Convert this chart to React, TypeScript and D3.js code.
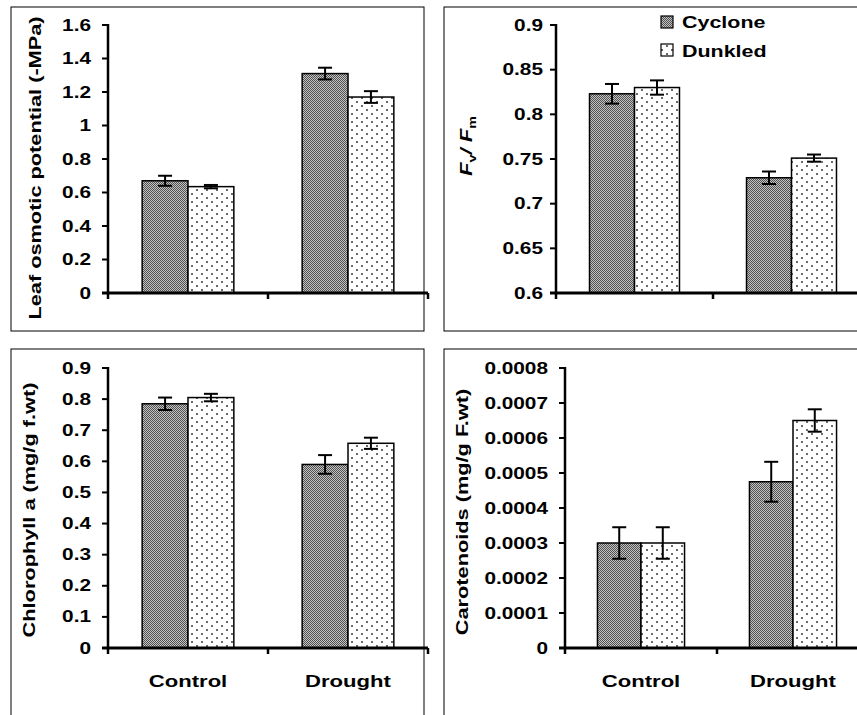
import React from 'react';
import * as d3 from 'd3';

const categories = ['Control', 'Drought'];
const cultivars = ['Cyclone', 'Dunkled'];

// Leaf osmotic potential (-MPa)
const osmoticCyclone = [0.67, 1.31];
const osmoticCycloneErr = [0.03, 0.035];
const osmoticDunkled = [0.635, 1.17];
const osmoticDunkledErr = [0.01, 0.035];
const osmoticTicks = [0, 0.2, 0.4, 0.6, 0.8, 1, 1.2, 1.4, 1.6];

// Fv/Fm
const fvfmCyclone = [0.823, 0.729];
const fvfmCycloneErr = [0.011, 0.007];
const fvfmDunkled = [0.83, 0.751];
const fvfmDunkledErr = [0.008, 0.004];
const fvfmTicks = [0.6, 0.65, 0.7, 0.75, 0.8, 0.85, 0.9];

// Chlorophyll a (mg/g f.wt)
const chlCyclone = [0.785, 0.59];
const chlCycloneErr = [0.02, 0.03];
const chlDunkled = [0.805, 0.658];
const chlDunkledErr = [0.012, 0.018];
const chlTicks = [0, 0.1, 0.2, 0.3, 0.4, 0.5, 0.6, 0.7, 0.8, 0.9];

// Carotenoids (mg/g F.wt)
const carCyclone = [0.0003, 0.000475];
const carCycloneErr = [0.000045, 0.000057];
const carDunkled = [0.0003, 0.00065];
const carDunkledErr = [0.000045, 0.000032];
const carTicks = [0, 0.0001, 0.0002, 0.0003, 0.0004, 0.0005, 0.0006, 0.0007, 0.0008];

const FONT = '"Liberation Sans", Arial, sans-serif';
const SX = 1.3;

type Panel = {
  frame: { x: number; y: number; w: number; h: number };
  axisX: number;
  yTop: number;
  yBottom: number;
  catW: number;
  domain: [number, number];
  ticks: number[];
  labelGap: number;
  label: string;
  labelPos: [number, number];
  series: number[][];
  errors: number[][];
  showCats: boolean;
  catLabelY: number;
};

const panels: Panel[] = [
  {
    frame: { x: 11, y: 7, w: 413, h: 324 },
    axisX: 108, yTop: 25, yBottom: 293, catW: 160,
    domain: [0, 1.6], ticks: osmoticTicks, labelGap: 17,
    label: 'Leaf osmotic potential (-MPa)', labelPos: [41, 168],
    series: [osmoticCyclone, osmoticDunkled], errors: [osmoticCycloneErr, osmoticDunkledErr],
    showCats: false, catLabelY: 0,
  },
  {
    frame: { x: 444, y: 7, w: 500, h: 324 },
    axisX: 556, yTop: 25, yBottom: 293, catW: 157,
    domain: [0.6, 0.9], ticks: fvfmTicks, labelGap: 13,
    label: 'FVFM', labelPos: [472, 146],
    series: [fvfmCyclone, fvfmDunkled], errors: [fvfmCycloneErr, fvfmDunkledErr],
    showCats: false, catLabelY: 0,
  },
  {
    frame: { x: 11, y: 349, w: 413, h: 500 },
    axisX: 108, yTop: 368, yBottom: 648, catW: 160,
    domain: [0, 0.9], ticks: chlTicks, labelGap: 17,
    label: 'Chlorophyll a (mg/g f.wt)', labelPos: [35, 510],
    series: [chlCyclone, chlDunkled], errors: [chlCycloneErr, chlDunkledErr],
    showCats: true, catLabelY: 687,
  },
  {
    frame: { x: 444, y: 349, w: 500, h: 500 },
    axisX: 565, yTop: 368, yBottom: 648, catW: 152,
    domain: [0, 0.0008], ticks: carTicks, labelGap: 17,
    label: 'Carotenoids (mg/g F.wt)', labelPos: [468, 512],
    series: [carCyclone, carDunkled], errors: [carCycloneErr, carDunkledErr],
    showCats: true, catLabelY: 687,
  },
];

const fills = ['url(#cyclonePat)', 'url(#dunkledPat)'];

function fmt(v: number) {
  return String(+v.toFixed(5));
}

function PanelView({ p }: { p: Panel }) {
  const y = d3.scaleLinear().domain(p.domain).range([p.yBottom, p.yTop]);
  const x0 = d3
    .scaleBand<string>()
    .domain(categories)
    .range([p.axisX, p.axisX + 2 * p.catW])
    .paddingInner(0.427)
    .paddingOuter(0.2135);
  const x1 = d3.scaleBand<string>().domain(cultivars).range([0, x0.bandwidth()]);
  const xEnd = p.axisX + 2 * p.catW;
  const [lx, ly] = p.labelPos;
  return (
    <g>
      <rect x={p.frame.x} y={p.frame.y} width={p.frame.w} height={p.frame.h} fill="white" stroke="#000" strokeWidth={1} />
      {categories.map((c, ci) =>
        cultivars.map((s, si) => {
          const v = p.series[si][ci];
          const e = p.errors[si][ci];
          const bx = (x0(c) as number) + (x1(s) as number);
          const bw = x1.bandwidth();
          const cx = bx + bw / 2;
          return (
            <g key={c + s}>
              <rect x={bx} y={y(v)} width={bw} height={p.yBottom - y(v)} fill={fills[si]} stroke="#000" strokeWidth={1.5} />
              <line x1={cx} x2={cx} y1={y(v + e)} y2={y(v - e)} stroke="#000" strokeWidth={2} />
              <line x1={cx - 7} x2={cx + 7} y1={y(v + e)} y2={y(v + e)} stroke="#000" strokeWidth={2} />
              <line x1={cx - 7} x2={cx + 7} y1={y(v - e)} y2={y(v - e)} stroke="#000" strokeWidth={2} />
            </g>
          );
        })
      )}
      <line x1={p.axisX} x2={p.axisX} y1={p.yTop - 1} y2={p.yBottom} stroke="#000" strokeWidth={2.5} />
      {p.ticks.map((t) => (
        <g key={t}>
          <line x1={p.axisX - 6} x2={p.axisX} y1={y(t)} y2={y(t)} stroke="#000" strokeWidth={2} />
          <text
            transform={`translate(${p.axisX - p.labelGap},${y(t) + 5.5}) scale(${SX},1)`}
            textAnchor="end"
            fontFamily={FONT}
            fontWeight="bold"
            fontSize={16}
          >
            {fmt(t)}
          </text>
        </g>
      ))}
      <line x1={p.axisX - 6} x2={xEnd} y1={p.yBottom} y2={p.yBottom} stroke="#000" strokeWidth={3} />
      {[0, 1, 2].map((k) => (
        <line key={k} x1={p.axisX + k * p.catW} x2={p.axisX + k * p.catW} y1={p.yBottom} y2={p.yBottom + 6} stroke="#000" strokeWidth={2.5} />
      ))}
      {p.showCats &&
        categories.map((c) => (
          <text
            key={c}
            transform={`translate(${(x0(c) as number) + x0.bandwidth() / 2},${p.catLabelY}) scale(${SX},1)`}
            textAnchor="middle"
            fontFamily={FONT}
            fontWeight="bold"
            fontSize={17}
          >
            {c}
          </text>
        ))}
      {p.label === 'FVFM' ? (
        <text
          transform={`translate(${lx},${ly}) rotate(-90) scale(${SX},1)`}
          textAnchor="middle"
          fontFamily={FONT}
          fontWeight="bold"
          fontSize={17}
        >
          <tspan fontStyle="italic">F</tspan>
          <tspan fontSize={11} dy={4}>v</tspan>
          <tspan dy={-4} fontStyle="italic">/ F</tspan>
          <tspan fontSize={11} dy={4}>m</tspan>
        </text>
      ) : (
        <text
          transform={`translate(${lx},${ly}) rotate(-90) scale(1.36,1)`}
          textAnchor="middle"
          fontFamily={FONT}
          fontWeight="bold"
          fontSize={16}
        >
          {p.label}
        </text>
      )}
    </g>
  );
}

export default function App() {
  return (
    <svg width={857} height={715} style={{ position: 'absolute', left: 0, top: 0, background: 'white' }}>
      <defs>
        <pattern id="cyclonePat" width={2} height={2} patternUnits="userSpaceOnUse">
          <rect width={2} height={2} fill="#c4c4c4" />
          <rect width={1} height={1} fill="#505050" />
          <rect x={1} y={1} width={1} height={1} fill="#505050" />
        </pattern>
        <pattern id="dunkledPat" width={10} height={8} patternUnits="userSpaceOnUse">
          <rect width={10} height={8} fill="#fff" />
          <rect x={1} y={1} width={2} height={2} fill="#6a6a6a" />
          <rect x={6} y={5} width={2} height={2} fill="#6a6a6a" />
        </pattern>
      </defs>
      <rect width={857} height={715} fill="white" />
      {panels.map((p, i) => (
        <PanelView key={i} p={p} />
      ))}
      {cultivars.map((s, i) => (
        <g key={s}>
          <rect x={661} y={16 + i * 28} width={12} height={12} fill={fills[i]} stroke="#000" strokeWidth={1.2} />
          <text
            transform={`translate(682,${28 + i * 29}) scale(${SX},1)`}
            fontFamily={FONT}
            fontWeight="bold"
            fontSize={16.5}
          >
            {s}
          </text>
        </g>
      ))}
    </svg>
  );
}
